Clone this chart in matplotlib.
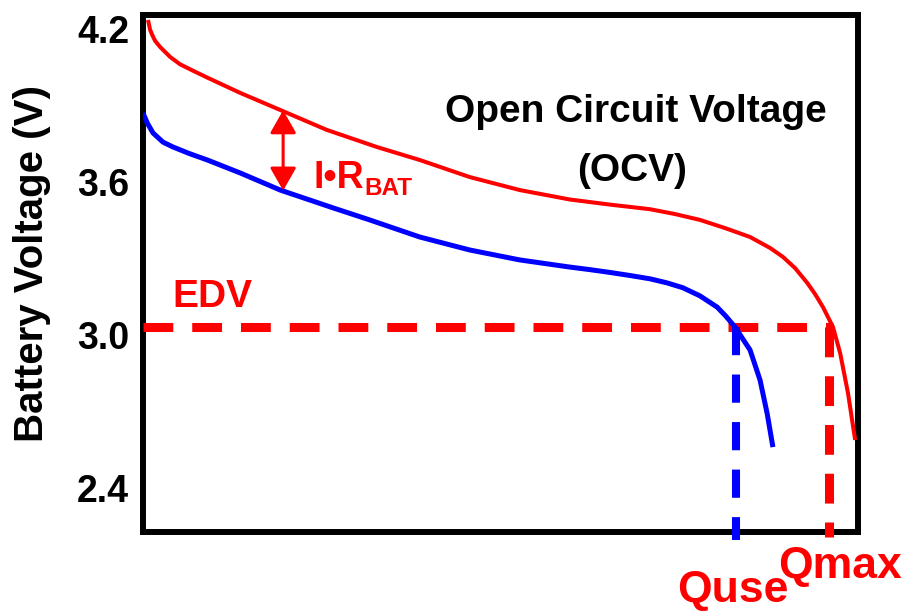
import matplotlib
matplotlib.use('Agg')
import matplotlib.pyplot as plt
from matplotlib.transforms import ScaledTranslation

plt.rcParams['font.family'] = ['Liberation Sans', 'DejaVu Sans']
plt.rcParams['font.weight'] = 'bold'

# capacity axis in % of full scale, voltage in V
ocv_x = [0.7, 1.0, 1.3, 1.7, 2.4, 3.8, 5.2, 7.0, 9.0, 13.6, 19.2, 25.7, 32.7, 38.7,
         45.7, 52.7, 59.7, 65.3, 70.9, 74.4, 77.9, 81.4, 84.9, 87.7, 89.5, 91.2,
         92.9, 94.0, 95.1, 96.5, 97.5, 98.6, 99.6]
ocv_v = [4.204, 4.165, 4.145, 4.122, 4.098, 4.059, 4.030, 4.005, 3.978, 3.918, 3.851,
         3.773, 3.706, 3.655, 3.588, 3.537, 3.500, 3.480, 3.462, 3.443, 3.420, 3.388,
         3.353, 3.310, 3.275, 3.231, 3.173, 3.129, 3.078, 3.000, 2.898, 2.741, 2.557]

load_x = [0.0, 0.6, 1.4, 2.8, 4.2, 6.5, 9.0, 13.6, 19.2, 26.6, 31.7, 38.7, 45.7,
          52.7, 59.7, 62.5, 65.3, 68.1, 70.9, 73.3, 75.5, 77.9, 80.3, 81.5, 82.8,
          83.8, 84.9, 85.6, 86.3, 87.3, 88.1]
load_v = [3.839, 3.800, 3.761, 3.725, 3.706, 3.680, 3.655, 3.604, 3.537, 3.467, 3.420,
          3.353, 3.302, 3.263, 3.235, 3.225, 3.214, 3.202, 3.189, 3.173, 3.154, 3.122,
          3.078, 3.043, 3.000, 2.957, 2.910, 2.851, 2.792, 2.660, 2.529]

edv = 3.0
q_use = 82.9
q_max = 95.9
drop_x = 19.6
drop_top = 3.85
drop_bottom = 3.535
y_ticks = [4.2, 3.6, 3.0, 2.4]
y_ticklabels = ['4.2', '3.6', '3.0', '2.4']

fig = plt.figure(figsize=(9.09, 6.13), dpi=100)
ax = fig.add_axes([0.1573, 0.1321, 0.7866, 0.8434])
ax.set_xlim(0, 100)
ax.set_ylim(2.196, 4.2235)

# dashed EDV / capacity markers
ax.plot([0, q_max + 0.6], [edv, edv], color='red', lw=6.5, dashes=(3.3, 2.1), zorder=3)
ax.plot([q_max, q_max], [edv, 2.176], color='red', lw=6.5, dashes=(3.3, 2.1),
        clip_on=False, zorder=3)
ax.plot([q_use, q_use], [edv, 2.165], color='blue', lw=5.8, dashes=(3.5, 2.4),
        clip_on=False, zorder=3)

ax.plot(ocv_x, ocv_v, color='red', lw=2.9, zorder=4,
        solid_capstyle='butt', solid_joinstyle='round')
ax.plot(load_x, load_v, color='blue', lw=3.6, zorder=4,
        solid_capstyle='butt', solid_joinstyle='round')

ax.annotate('', xy=(drop_x, drop_top), xytext=(drop_x, drop_bottom),
            arrowprops=dict(arrowstyle='<|-|>,head_length=0.7,head_width=0.4',
                            color='red', lw=2.2, mutation_scale=20,
                            shrinkA=0, shrinkB=0), zorder=5)

ax.text(68.9, 3.804, 'Open Circuit Voltage', ha='center', va='baseline', fontsize=28)
ax.text(68.4, 3.573, '(OCV)', ha='center', va='baseline', fontsize=28)
ax.text(4.1, 3.078, 'EDV', color='red', ha='left', va='baseline', fontsize=28)
ax.text(23.8, 3.545, 'I\u2022R', color='red', ha='left', va='baseline', fontsize=27)
ax.text(31.0, 3.518, 'BAT', color='red', ha='left', va='baseline', fontsize=17.5)
ax.text(88.8, 2.015, 'Qmax', color='red', ha='left', va='baseline', fontsize=32,
        clip_on=False)
ax.text(74.7, 1.920, 'Quse', color='red', ha='left', va='baseline', fontsize=32,
        clip_on=False)

fig.text(32 / 909, 1 - 263.5 / 613, 'Battery Voltage (V)', rotation=90,
         ha='center', va='center', fontsize=29)

ax.set_xticks([])
ax.set_yticks(y_ticks)
ax.set_yticklabels(y_ticklabels)
ax.tick_params(axis='y', length=0, pad=10, labelsize=27)
shift = ScaledTranslation(0, -0.08, fig.dpi_scale_trans)
for lab in ax.get_yticklabels():
    lab.set_transform(lab.get_transform() + shift)

for sp in ax.spines.values():
    sp.set_linewidth(4.3)
    sp.set_color('black')

fig.savefig('out.png', dpi=100)
